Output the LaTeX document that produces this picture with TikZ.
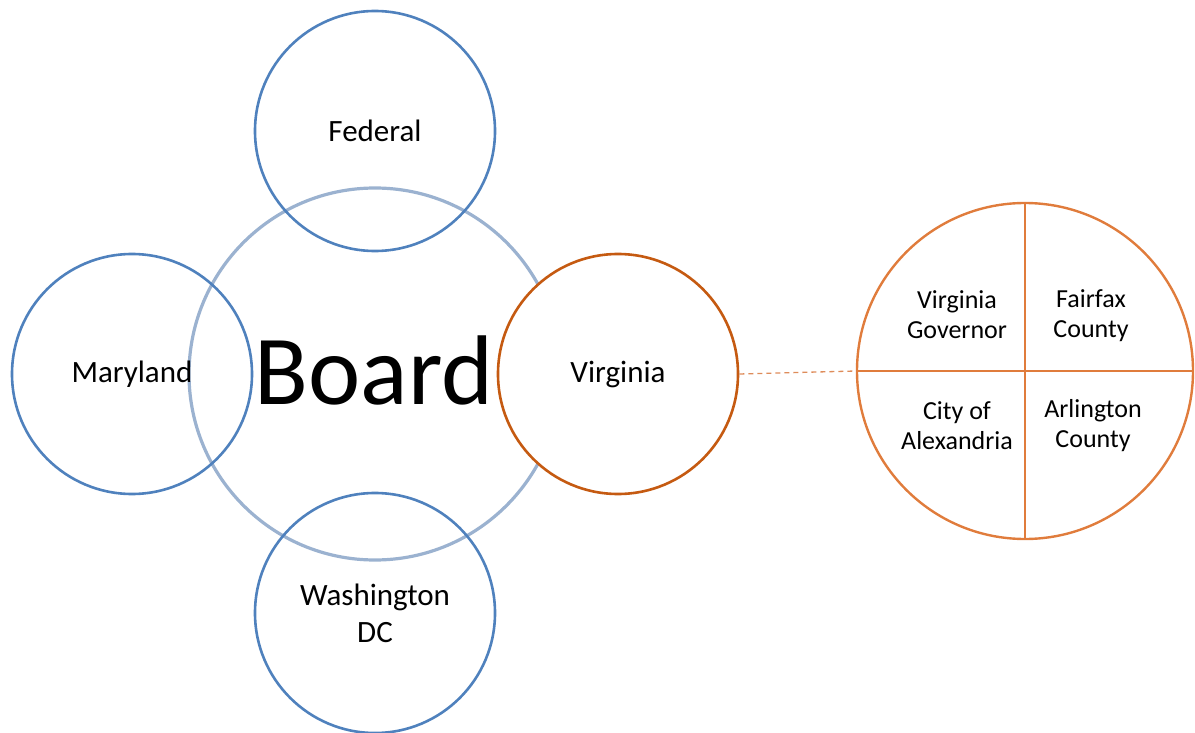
\documentclass[tikz,border=0pt]{standalone}
\usepackage{fontspec}
\setmainfont{Carlito}
\definecolor{cblue}{RGB}{79,129,189}
\definecolor{cring}{RGB}{155,178,208}
\definecolor{corange}{RGB}{197,90,17}
\definecolor{corange2}{RGB}{224,124,60}
\definecolor{cdash}{RGB}{222,140,90}
\begin{document}
\begin{tikzpicture}[x=1pt,y=-1pt,
  small/.style={circle,draw=cblue,line width=2.6pt,inner sep=0pt,minimum size=240pt,font=\fontsize{31}{37}\selectfont,align=center},
  ring/.style={circle,draw=cring,line width=3.2pt,inner sep=0pt,minimum size=372pt},
  quad/.style={font=\fontsize{26}{30}\selectfont,align=center}]
\useasboundingbox (0,0) rectangle (1195,733);
\node[ring] (board) at (375,374) {};
\node (boardtxt) at (374,370) {\fontsize{99}{110}\selectfont Board};
\node[small] (fed) at (375,131) {Federal};
\node[small] (md) at (132,374) {Maryland};
\node[small] (dc) at (375,613) {Washington\\DC};
\node[small,draw=corange,fill=white] (va) at (618,374) {Virginia};
\node[circle,draw=corange2,line width=2.4pt,inner sep=0pt,minimum size=336pt] (rc) at (1025,371) {};
\draw[corange2,line width=2.4pt] (rc.north) -- (rc.south);
\draw[corange2,line width=2.4pt] (rc.west) -- (rc.east);
\draw[cdash,line width=1.3pt,dash pattern=on 5pt off 4pt] (va.east) -- (rc.west);
\node[quad] (vg) at (957,315) {Virginia\\Governor};
\node[quad] (ff) at (1091,316) {Fairfax\\County};
\node[quad] (ca) at (957,426) {City of\\Alexandria};
\node[quad] (ac) at (1093,426) {Arlington\\County};
\end{tikzpicture}
\end{document}
